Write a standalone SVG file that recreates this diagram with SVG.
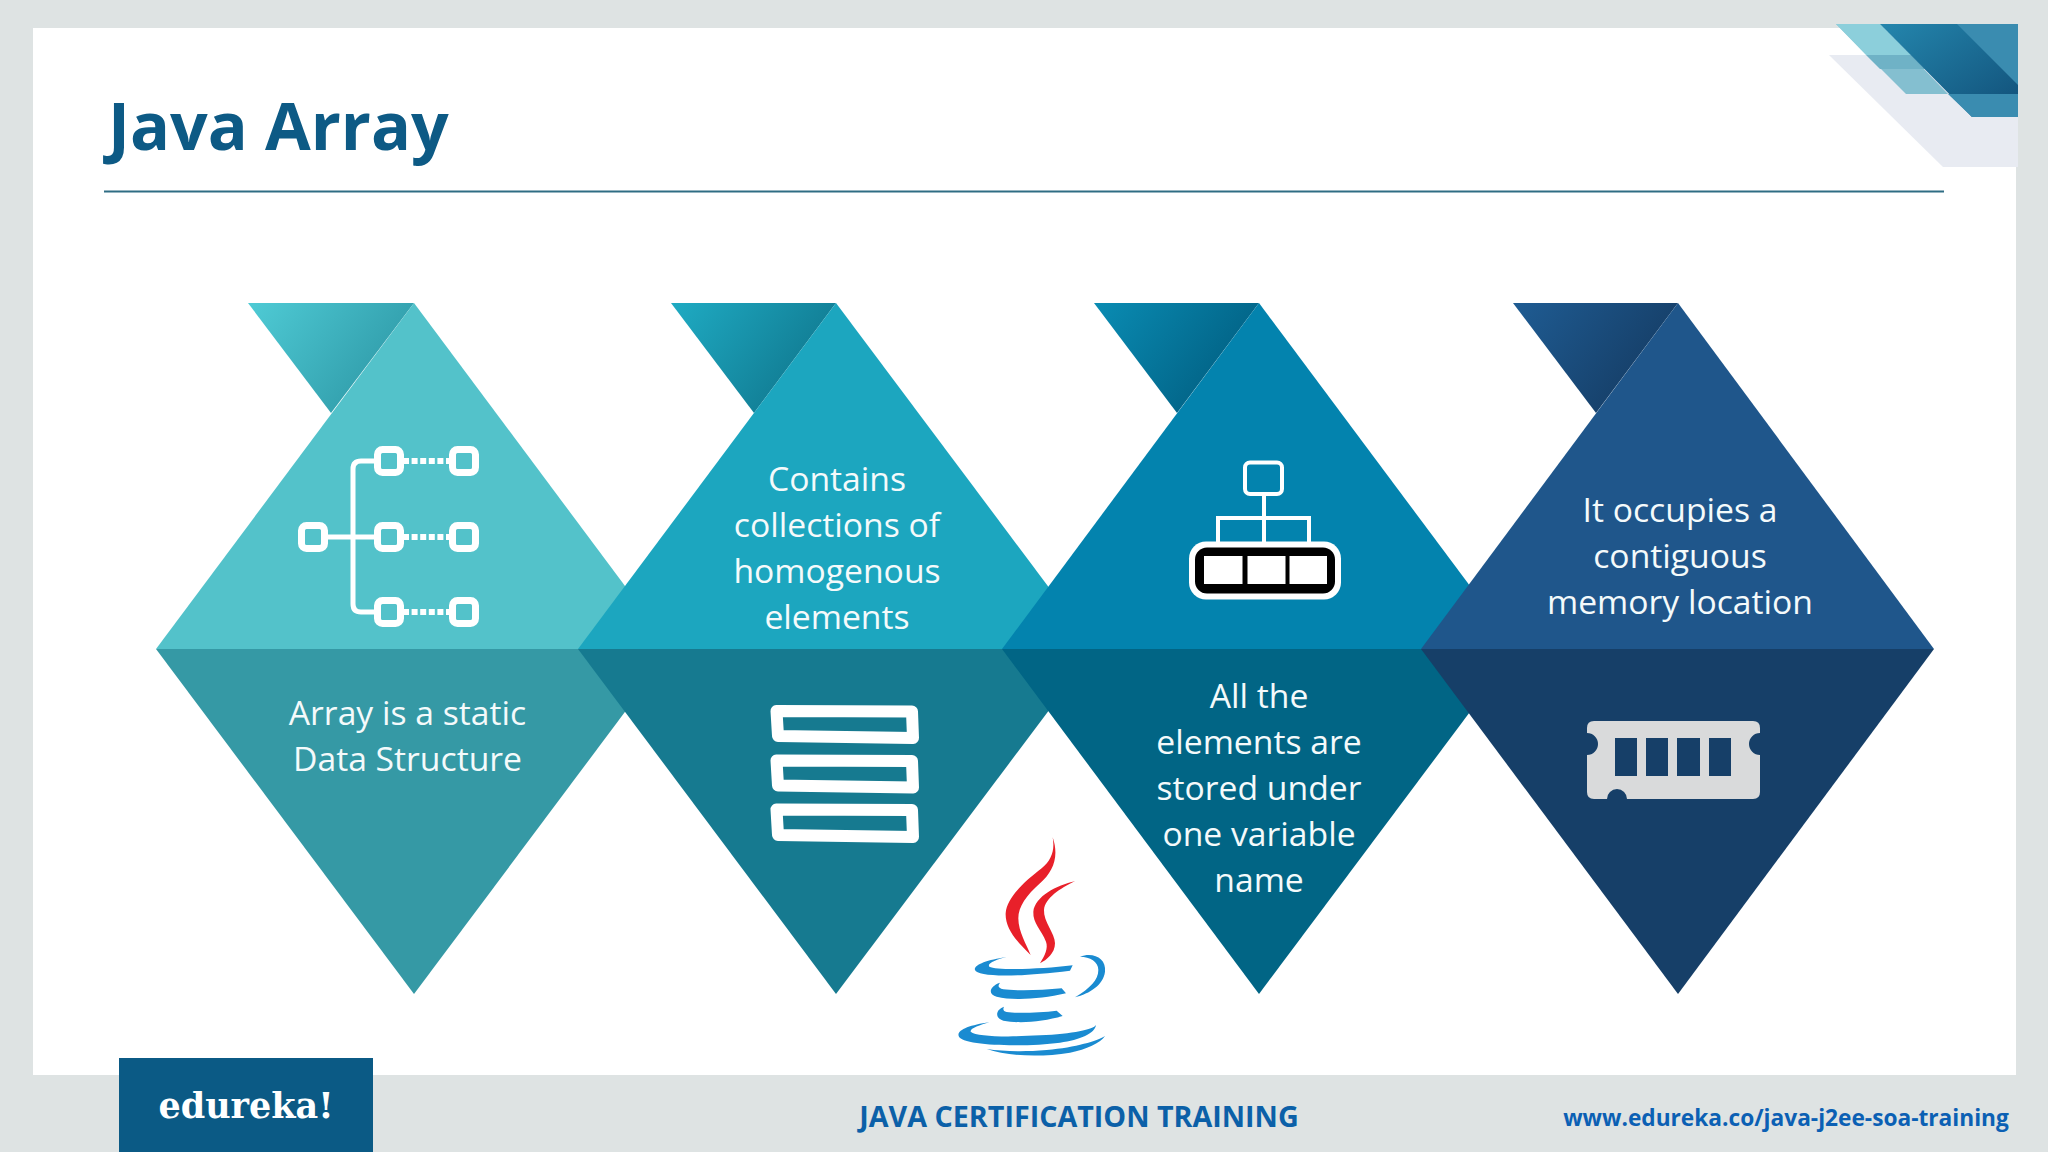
<svg xmlns="http://www.w3.org/2000/svg" width="2048" height="1152" viewBox="0 0 2048 1152">
<style>
.t{font-family:"Open Sans","Noto Sans",sans-serif;font-size:33.7px;fill:#f4fafb;text-anchor:middle}
.n{fill:none;stroke:#fff;stroke-width:7}
.w{fill:none;stroke:#fff;stroke-width:5}
.d{fill:none;stroke:#fff;stroke-width:6;stroke-dasharray:6 2.600}
.b{fill:none;stroke:#fff;stroke-width:12;stroke-linejoin:round}
.l{fill:#1a8bd1}
</style>
<defs>
<linearGradient id="g1" x1="0" y1="0" x2="1" y2="0.5"><stop offset="0" stop-color="#4fcbd5"/><stop offset="1" stop-color="#2f9aa8"/></linearGradient>
<linearGradient id="g2" x1="0" y1="0" x2="1" y2="0.5"><stop offset="0" stop-color="#1fabc3"/><stop offset="1" stop-color="#10788f"/></linearGradient>
<linearGradient id="g3" x1="0" y1="0" x2="1" y2="0.5"><stop offset="0" stop-color="#0a8cb3"/><stop offset="1" stop-color="#015f82"/></linearGradient>
<linearGradient id="g4" x1="0" y1="0" x2="1" y2="0.5"><stop offset="0" stop-color="#1f5c93"/><stop offset="1" stop-color="#153c64"/></linearGradient>
<linearGradient id="cd" x1="0" y1="0" x2="1" y2="1"><stop offset="0" stop-color="#2486ad"/><stop offset="1" stop-color="#114f78"/></linearGradient>
</defs>
<rect width="2048" height="1152" fill="#dee3e3"/>
<rect x="33" y="28" width="1983" height="1047" fill="#fff"/>

<g id="corner">
<polygon points="1829,55 2018,55 2018,167 1943,167" fill="#e8ebf2"/>
<polygon points="1836,24 1880,24 1948,94 1906,94" fill="#84bfd0"/>
<polygon points="1836,24 1880,24 1911,55 1866,55" fill="#8ccfdb"/>
<polygon points="1866,55 1911,55 1925,69 1880,69" fill="#6fb2c6"/>
<polygon points="1880,24 2018,24 2018,117 1972,117" fill="url(#cd)"/>
<polygon points="1957,24 2018,24 2018,85" fill="#3a8cb0"/>
<polygon points="1948,94 2018,94 2018,117 1972,117" fill="#3a8cb0"/>
</g>

<g id="title">
<text x="108" y="150" font-family="'Open Sans','Noto Sans',sans-serif" font-weight="700" font-size="66.300" fill="#0d5a85">Java Array</text>
<rect x="104" y="190.500" width="1840" height="2" fill="#2f6d84"/>
</g>

<g id="node1">
<polygon points="248,303 414,303 331,413" fill="url(#g1)"/>
<polygon points="414,303 672,649 156,649" fill="#53c2ca"/>
<polygon points="156,649 672,649 414,994" fill="#3599a5"/>
<g id="icon1">
<path class="w" d="M375,461H361Q353,461 353,469V604Q353,612 361,612H375M327,537H375"/>
<path class="d" d="M403,461H450M403,537H450M403,612H450"/>
<rect class="n" x="301.500" y="525.500" width="23" height="23" rx="5"/>
<rect class="n" x="377.500" y="449.500" width="23" height="23" rx="5"/>
<rect class="n" x="377.500" y="525.500" width="23" height="23" rx="5"/>
<rect class="n" x="377.500" y="600.500" width="23" height="23" rx="5"/>
<rect class="n" x="452.500" y="449.500" width="23" height="23" rx="5"/>
<rect class="n" x="452.500" y="525.500" width="23" height="23" rx="5"/>
<rect class="n" x="452.500" y="600.500" width="23" height="23" rx="5"/>
</g>
<text class="t" x="407.500" y="725">Array is a static</text>
<text class="t" x="407.500" y="771">Data Structure</text>
</g>

<g id="node2">
<polygon points="671,303 836,303 754,413" fill="url(#g2)"/>
<polygon points="836,303 1095,649 578,649" fill="#1ca6bf"/>
<polygon points="578,649 1095,649 836,994" fill="#167a90"/>
<g id="icon2">
<path class="b" d="M776.500,711L912,711.500L913,738L778,736Z"/>
<path class="b" d="M776.500,760.500L912,761L913,787.500L778,785.500Z"/>
<path class="b" d="M776.500,809.500L912,810L913,837L778,835Z"/>
</g>
<text class="t" x="837" y="491">Contains</text>
<text class="t" x="837" y="537">collections of</text>
<text class="t" x="837" y="583">homogenous</text>
<text class="t" x="837" y="629">elements</text>
</g>

<g id="node3">
<polygon points="1094,303 1259,303 1177,413" fill="url(#g3)"/>
<polygon points="1259,303 1517,649 1002,649" fill="#0383ae"/>
<polygon points="1002,649 1517,649 1259,994" fill="#016585"/>
<g id="icon3">
<rect x="1245" y="462.500" width="37" height="31.500" rx="5" fill="none" stroke="#fff" stroke-width="4"/>
<path d="M1264,495V542M1218,542V518H1309V542" fill="none" stroke="#fff" stroke-width="4"/>
<rect x="1189" y="541.500" width="152" height="58" rx="17" fill="#fff"/>
<rect x="1195" y="547.500" width="140" height="46" rx="12" fill="#000"/>
<rect x="1204" y="556" width="38.500" height="28" fill="#fff"/>
<rect x="1247.500" y="556" width="38" height="28" fill="#fff"/>
<rect x="1289.500" y="556" width="37.500" height="28" fill="#fff"/>
</g>
<text class="t" x="1259" y="708">All the</text>
<text class="t" x="1259" y="754">elements are</text>
<text class="t" x="1259" y="800">stored under</text>
<text class="t" x="1259" y="846">one variable</text>
<text class="t" x="1259" y="892">name</text>
</g>

<g id="node4">
<polygon points="1513,303 1678,303 1596,413" fill="url(#g4)"/>
<polygon points="1678,303 1934,649 1421,649" fill="#1f568b"/>
<polygon points="1421,649 1934,649 1678,994" fill="#163f68"/>
<g id="icon4">
<path fill="#d9dadb" fill-rule="evenodd" d="M1594,721H1753Q1760,721 1760,728V733A11,11 0 0 0 1760,755V792Q1760,799 1753,799H1627A10,10 0 0 0 1607,799H1594Q1587,799 1587,792V755A11,11 0 0 0 1587,733V728Q1587,721 1594,721ZM1615,738V776H1637V738ZM1646,738V776H1668V738ZM1677,738V776H1700V738ZM1709,738V776H1731V738Z"/>
</g>
<text class="t" x="1680" y="522">It occupies a</text>
<text class="t" x="1680" y="568">contiguous</text>
<text class="t" x="1680" y="614">memory location</text>
</g>

<g id="java-logo" transform="translate(740 680) scale(0.33333)">
<path fill="#e8202a" d="M938,472C958,530 940,575 900,610C860,645 835,680 835,715C835,755 860,795 872,825C830,785 795,745 797,700C800,650 860,600 905,565C935,540 945,510 938,472Z"/>
<path fill="#e8202a" d="M1005,604C960,625 915,655 912,690C910,725 945,760 945,790C945,820 920,840 900,850C915,825 925,805 918,785C905,750 878,730 880,695C885,650 950,615 1005,604Z"/>
<path class="l" d="M800,831C740,840 700,855 705,870C712,890 820,893 990,872L998,856C900,868 770,872 748,860C740,850 770,838 800,831Z"/>
<path class="l" d="M1020,830C1060,815 1100,835 1095,875C1090,915 1050,940 1005,952C1050,925 1075,900 1075,870C1075,845 1050,830 1020,830Z"/>
<path class="l" d="M780,908C745,920 745,945 770,950C820,962 900,958 978,940L965,925C900,932 820,932 790,928C775,925 772,918 780,908Z"/>
<path class="l" d="M792,980C765,990 765,1015 790,1022C840,1032 910,1025 968,1008L950,992C900,998 830,1001 800,996C790,995 788,988 792,980Z"/>
<path class="l" d="M748,1027C690,1035 650,1050 656,1068C665,1098 850,1102 960,1088C1020,1080 1065,1060 1068,1035C1060,1048 1000,1062 900,1066C800,1072 710,1070 692,1055C690,1045 720,1035 748,1027Z"/>
<path class="l" d="M740,1107C800,1128 900,1133 990,1118C1040,1108 1080,1090 1095,1068C1070,1083 1010,1102 920,1110C850,1116 790,1114 740,1107Z"/>
</g>

<g id="footer">
<rect x="119" y="1058" width="254" height="94" fill="#0b5a85"/>
<text x="246" y="1118" font-family="'DejaVu Serif',serif" font-weight="700" font-size="35" fill="#fff" text-anchor="middle">edureka!</text>
<text x="1079" y="1127" font-family="'Open Sans','Noto Sans',sans-serif" font-weight="700" font-size="28.700" fill="#0b60a8" text-anchor="middle">JAVA CERTIFICATION TRAINING</text>
<text x="1786" y="1126" font-family="'Open Sans','Noto Sans',sans-serif" font-weight="700" font-size="22.700" fill="#0b60b4" text-anchor="middle">www.edureka.co/java-j2ee-soa-training</text>
</g>
</svg>
